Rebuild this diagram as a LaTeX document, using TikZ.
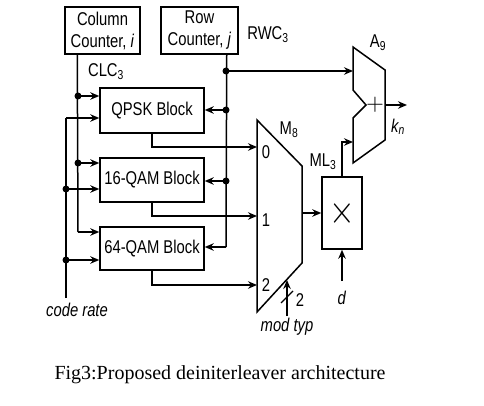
\documentclass[tikz,border=0pt]{standalone}
\usepackage{fontspec}
\usepackage{graphicx}
\setmainfont{Liberation Serif}
\newfontfamily\diagfont{Liberation Sans}[FakeStretch=0.8]
\usetikzlibrary{arrows.meta,calc}
\begin{document}
\begin{tikzpicture}[x=1pt,y=-1pt,
  every node/.style={font=\diagfont\fontsize{18.5}{22}\selectfont, inner sep=0pt},
  blk/.style={draw, line width=1.5pt, minimum width=104pt, minimum height=44pt},
  cnt/.style={draw, line width=1.5pt, minimum height=47pt, align=center},
  wire/.style={line width=1.5pt},
  arr/.style={line width=1.5pt, -{Stealth[length=9pt,width=7.5pt,inset=3pt]}},
  dot/.style={circle, fill, minimum size=7pt, inner sep=0pt}
]
\useasboundingbox (0,0) rectangle (484,406);
% counters
\node[cnt, minimum width=75pt] (col) at (102.5,30.5) {Column\\Counter, \textit{i}};
\node[cnt, minimum width=77pt] (row) at (199.5,30.5) {Row\\Counter, \textit{j}};
% blocks
\node[blk, minimum height=45pt] (qpsk) at (152,110.5) {QPSK Block};
\node[blk] (q16) at (152,180) {16-QAM Block};
\node[blk, minimum height=43pt] (q64) at (152,248.5) {64-QAM Block};
\node[draw, line width=1.5pt, minimum width=40pt, minimum height=72pt] (mult) at (342,213) {\fontsize{10}{10}\selectfont\scalebox{3.3}[4]{$\times$}};
% labels
\node (clc) at (106,72) {CLC\textsubscript{3}};
\node (rwc) at (268,35) {RWC\textsubscript{3}};
\node (m8) at (289,130) {M\textsubscript{8}};
\node (ml3) at (323,162) {ML\textsubscript{3}};
\node (a9) at (378,43) {A\textsubscript{9}};
\node (kn) at (398,127) {\textit{k\textsubscript{n}}};
\node (cr) at (77,310) {\textit{code rate}};
\node (mt) at (287,327) {\textit{mod typ}};
\node (dl) at (342,298) {\textit{d}};
\node (bw) at (300,300) {2};
\node (i0) at (266,152) {0};
\node (i1) at (266,220) {1};
\node (i2) at (266,285) {2};
\node (plus) at (375,105) {\fontsize{10}{10}\selectfont\scalebox{2.3}{$+$}};
% mux M8
\draw[wire] (257,120) -- (302,166) -- (302,263) -- (257,312) -- cycle;
\coordinate (m0) at (257,147);
\coordinate (m1) at (257,216);
\coordinate (m2) at (257,285);
\coordinate (mout) at (302,213);
% adder A9
\draw[wire] (353,47) -- (385,70) -- (385,140) -- (353,163) -- (353,118) -- (366,105) -- (353,90) -- cycle;
\coordinate (a1) at (353,71);
\coordinate (a2) at (353,142);
\coordinate (aout) at (385,105);
\coordinate (kout) at (407,105);
% column counter wire
\coordinate (cd1) at (78,96);
\coordinate (cd2) at (78,163);
\coordinate (cend) at (78,232);
\draw[wire] ([xshift=13pt]col.south west) -- (cend);
\draw[arr] (cd1) -- (cd1 -| qpsk.west);
\draw[arr] (cd2) -- (cd2 -| q16.west);
\draw[arr] (cend) -- (cend -| q64.west);
\node[dot] at (cd1) {};
\node[dot] at (cd2) {};
% code rate wire
\coordinate (rtop) at (66,118);
\coordinate (rd1) at (66,189);
\coordinate (rd2) at (66,260);
\coordinate (rbot) at (66,298);
\draw[wire] (rbot) -- (rtop);
\draw[arr] (rtop) -- (rtop -| qpsk.west);
\draw[arr] (rd1) -- (rd1 -| q16.west);
\draw[arr] (rd2) -- (rd2 -| q64.west);
\node[dot] at (rd1) {};
\node[dot] at (rd2) {};
% row counter wire
\coordinate (wd0) at (226,71);
\coordinate (wd1) at (226,110);
\coordinate (wd2) at (226,181);
\coordinate (wend) at (226,247);
\draw[wire] ([xshift=-12pt]row.south east) -- (wend);
\draw[arr] (wd1) -- (wd1 -| qpsk.east);
\draw[arr] (wd2) -- (wd2 -| q16.east);
\draw[arr] (wend) -- (wend -| q64.east);
\draw[arr] (wd0) -- (a1);
\node[dot] at (wd0) {};
\node[dot] at (wd1) {};
\node[dot] at (wd2) {};
% block outputs to mux
\draw[arr] (qpsk.south) |- (m0);
\draw[arr] (q16.south) |- (m1);
\draw[arr] (q64.south) |- (m2);
% mux to multiplier
\draw[arr] (mout) -- (mout -| mult.west);
% multiplier to adder
\draw[arr] (mult.north) |- (a2);
\draw[arr] (aout) -- (kout);
% d input
\coordinate (dsrc) at (342,281);
\draw[arr] (dsrc) -- (mult.south);
% mod typ
\coordinate (mtsrc) at (287,316);
\coordinate (mttip) at (287,280);
\draw[arr] (mtsrc) -- (mttip);
\draw[line width=1.2pt] (281,303) -- (293,291);
% caption
\node[font=\rmfamily\fontsize{20}{22}\selectfont] (cap) at (220,375) {Fig3:Proposed deiniterleaver architecture};
\end{tikzpicture}
\end{document}
